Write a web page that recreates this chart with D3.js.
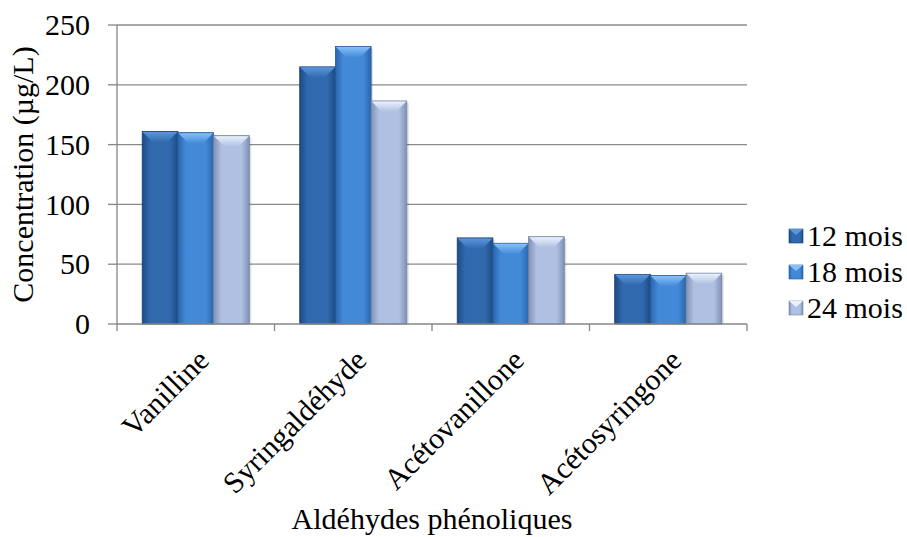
<!DOCTYPE html>
<html>
<head>
<meta charset="utf-8">
<script src="https://cdn.jsdelivr.net/npm/d3@7"></script>
</head>
<body style="margin:0">
<svg id="chart" width="907" height="537" style="display:block;font-family:'Liberation Serif',Tinos">
</svg>
<script>
const categories = ["Vanilline", "Syringaldéhyde", "Acétovanillone", "Acétosyringone"];
const seriesNames = ["12 mois", "18 mois", "24 mois"];
const values12 = [161, 215, 72, 41.5];
const values18 = [160, 232, 67.5, 40.5];
const values24 = [157.5, 186.5, 73, 42.5];
const yTicks = [0, 50, 100, 150, 200, 250];
const yTitle = "Concentration (µg/L)";
const xTitle = "Aldéhydes phénoliques";

const FONT = '"Liberation Serif"';
const FS = 30;
const seriesValues = [values12, values18, values24];
const palette = [
  { edge: "#1d4b84", mid: "#3169ae", top: "#5a96dc", line: "#1a3f70" },
  { edge: "#2a66ad", mid: "#4289d8", top: "#86c0f8", line: "#245a99" },
  { edge: "#7f91b8", mid: "#b0c0e2", top: "#eaf1fc", line: "#74849f" }
];

const svg = d3.select("#chart");
const x0 = 117, x1 = 747, yTop = 25, yBot = 324;

const defs = svg.append("defs");
palette.forEach((p, i) => {
  const g = defs.append("linearGradient").attr("id", "g" + i).attr("x1", 0).attr("x2", 1).attr("y1", 0).attr("y2", 0);
  g.append("stop").attr("offset", "0%").attr("stop-color", p.edge);
  g.append("stop").attr("offset", "22%").attr("stop-color", p.mid);
  g.append("stop").attr("offset", "78%").attr("stop-color", p.mid);
  g.append("stop").attr("offset", "100%").attr("stop-color", p.edge);
  const t = defs.append("linearGradient").attr("id", "t" + i).attr("x1", 0).attr("x2", 0).attr("y1", 0).attr("y2", 1);
  t.append("stop").attr("offset", "0%").attr("stop-color", p.top);
  t.append("stop").attr("offset", "100%").attr("stop-color", p.mid);
});

const x = d3.scaleBand().domain(categories).range([x0, x1]).paddingInner(0.32).paddingOuter(0.16);
const xs = d3.scaleBand().domain(seriesNames).range([0, x.bandwidth()]);
const y = d3.scaleLinear().domain([0, 250]).range([yBot, yTop]);
const xBound = d3.scaleBand().domain(categories).range([x0, x1]);

svg.append("g").selectAll("line").data(yTicks.filter(d => d > 0)).join("line")
  .attr("x1", x0).attr("x2", x1).attr("y1", d => y(d)).attr("y2", d => y(d))
  .attr("stroke", "#8a8a8a").attr("stroke-width", 1.3);

const bev = 11;
seriesNames.forEach((s, si) => {
  const g = svg.append("g");
  categories.forEach((c, ci) => {
    const bx = x(c) + xs(s), bw = xs.bandwidth();
    const by = y(seriesValues[si][ci]), bh = y(0) - by;
    g.append("rect").attr("x", bx + 2).attr("y", by + 2).attr("width", bw).attr("height", bh - 2)
      .attr("fill", "#000").attr("opacity", 0.12);
    g.append("rect").attr("x", bx).attr("y", by).attr("width", bw).attr("height", bh)
      .attr("fill", `url(#g${si})`).attr("stroke", palette[si].line).attr("stroke-width", 0.8);
    const path = d3.path();
    path.moveTo(bx + 0.5, by + 0.5);
    path.lineTo(bx + bw - 0.5, by + 0.5);
    path.lineTo(bx + bw - bev, by + bev);
    path.lineTo(bx + bev, by + bev);
    path.closePath();
    g.append("path").attr("d", path.toString()).attr("fill", `url(#t${si})`);
  });
});

const axisColor = "#868686";
svg.append("line").attr("x1", x0).attr("x2", x0).attr("y1", yTop).attr("y2", yBot).attr("stroke", axisColor).attr("stroke-width", 1.3);
svg.append("line").attr("x1", x0).attr("x2", x1).attr("y1", yBot).attr("y2", yBot).attr("stroke", axisColor).attr("stroke-width", 1.3);

svg.append("g").selectAll("line").data(yTicks).join("line")
  .attr("x1", x0 - 9).attr("x2", x0).attr("y1", d => y(d)).attr("y2", d => y(d))
  .attr("stroke", axisColor).attr("stroke-width", 1.3);
svg.append("g").selectAll("text").data(yTicks).join("text")
  .attr("x", x0 - 27).attr("y", d => y(d)).attr("dy", "0.34em")
  .style("font-family", FONT).attr("text-anchor", "end").attr("font-size", FS).text(d => d);

const bounds = categories.map(c => xBound(c)).concat([x1]);
svg.append("g").selectAll("line").data(bounds).join("line")
  .attr("x1", d => d).attr("x2", d => d).attr("y1", yBot).attr("y2", yBot + 7)
  .attr("stroke", axisColor).attr("stroke-width", 1.3);

svg.append("g").selectAll("text").data(categories).join("text")
  .attr("transform", c => `translate(${x(c) + x.bandwidth() / 2 + 15},${yBot + 38}) rotate(-45)`)
  .style("font-family", FONT).attr("text-anchor", "end").attr("font-size", FS).text(c => c);

svg.append("text").attr("transform", `translate(33,${(yTop + yBot) / 2}) rotate(-90)`)
  .style("font-family", FONT).attr("text-anchor", "middle").attr("font-size", FS).text(yTitle);
svg.append("text").attr("x", (x0 + x1) / 2).attr("y", 529)
  .style("font-family", FONT).attr("text-anchor", "middle").attr("font-size", FS).text(xTitle);

const legY = d3.scalePoint().domain(seriesNames).range([236, 308]);
const leg = svg.append("g");
seriesNames.forEach((s, si) => {
  const cy = legY(s);
  leg.append("rect").attr("x", 789).attr("y", cy - 7).attr("width", 14).attr("height", 14)
    .attr("fill", `url(#g${si})`).attr("stroke", palette[si].line).attr("stroke-width", 0.6);
  const p = d3.path();
  p.moveTo(789, cy - 7); p.lineTo(803, cy - 7); p.lineTo(796, cy - 1); p.closePath();
  leg.append("path").attr("d", p.toString()).attr("fill", palette[si].top);
  leg.append("text").attr("x", 807).attr("y", cy).attr("dy", "0.34em")
    .style("font-family", FONT).attr("font-size", FS).text(s);
});
</script>
</body>
</html>
